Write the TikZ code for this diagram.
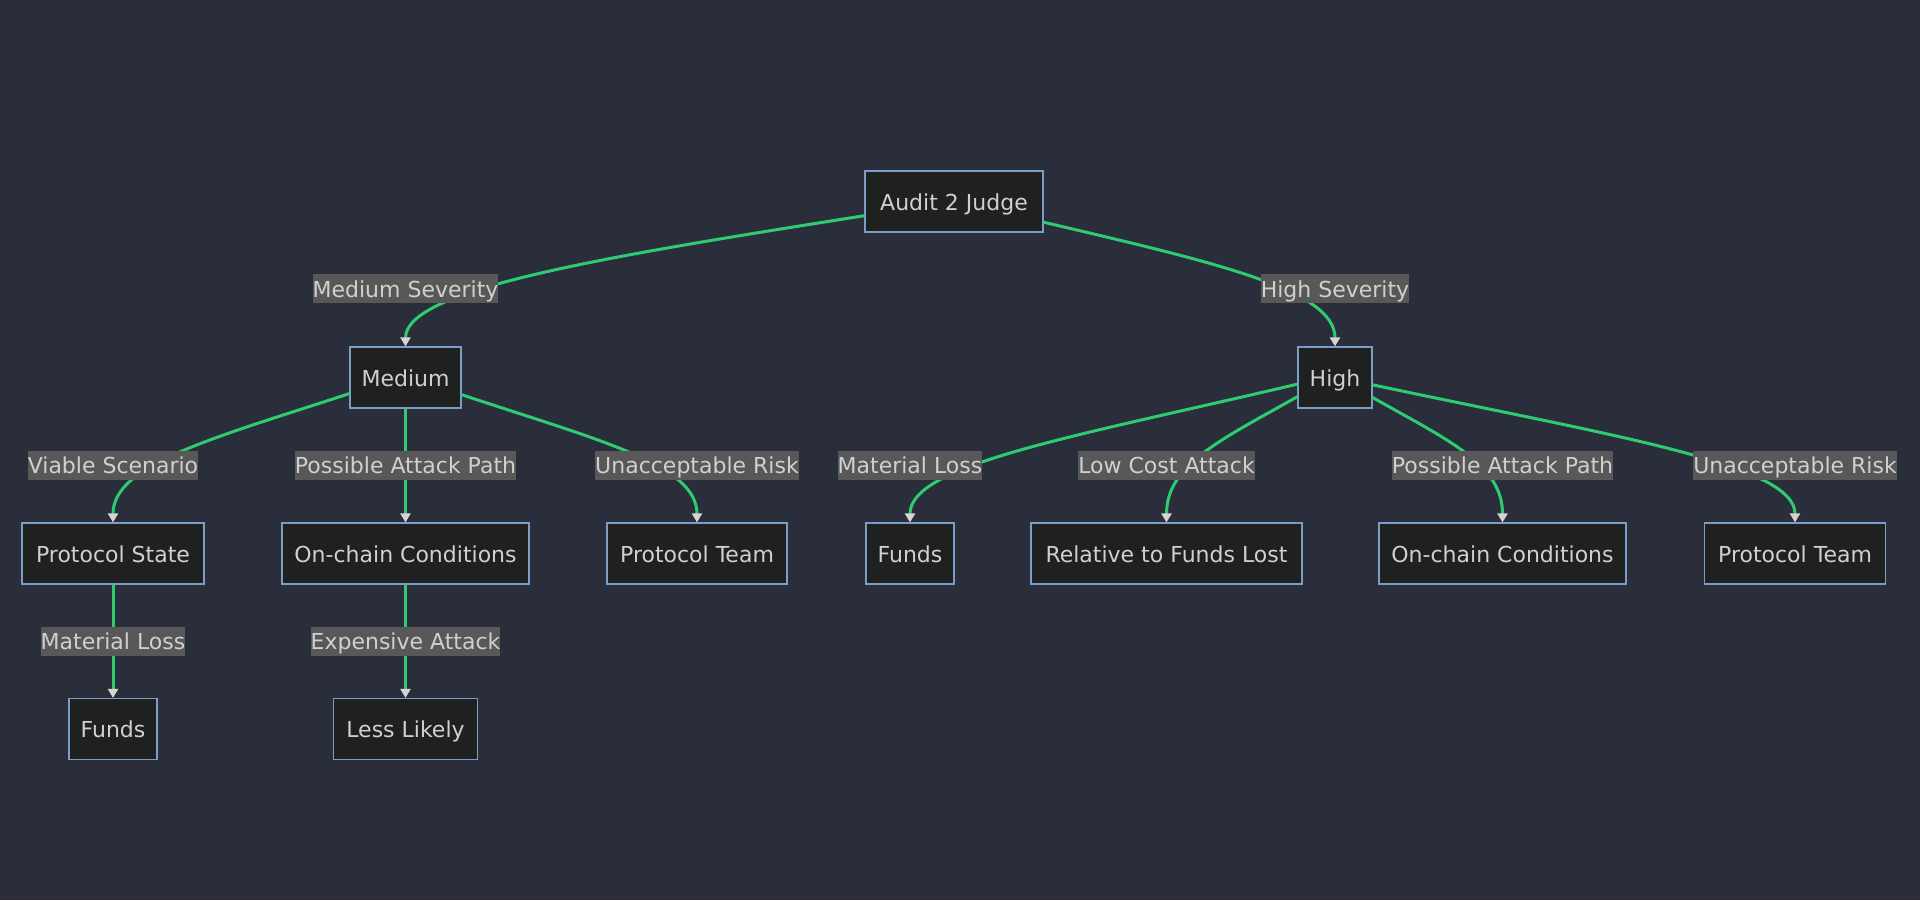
\documentclass[tikz,border=0pt]{standalone}
\usepackage{fontspec}
\setmainfont{DejaVu Sans}
\usetikzlibrary{arrows.meta}
\definecolor{bgblue}{RGB}{41,46,58}
\definecolor{nodefill}{RGB}{31,32,32}
\definecolor{nodeline}{RGB}{122,158,198}
\definecolor{nodetext}{RGB}{208,208,208}
\definecolor{lblfill}{RGB}{88,88,88}
\definecolor{linegreen}{RGB}{46,204,113}
\definecolor{tipgray}{RGB}{212,212,212}
\begin{document}
\begin{tikzpicture}[x=1pt,y=-1pt,
box/.style={draw=nodeline, line width=1.2pt, fill=nodefill, text=nodetext, font=\fontsize{22}{26}\selectfont, inner sep=0pt, text height=23pt, text depth=6pt, minimum height=61pt, minimum width=#1},
lbl/.style={fill=lblfill, text=nodetext, font=\fontsize{22}{26}\selectfont, inner sep=0pt, text height=23pt, text depth=6pt},
edge/.style={draw=linegreen, line width=3pt, -{Triangle[length=9pt,width=10pt,color=tipgray]}}]
\fill[bgblue] (0,0) rectangle (1920,900);

\node[box=178] (audit) at (954,201.5) {Audit 2 Judge};
\node[box=111] (med) at (405.5,377.5) {Medium};
\node[box=74] (high) at (1335,377.5) {High};
\node[box=182] (ps) at (113,553.5) {Protocol State};
\node[box=247] (ocl) at (405.5,553.5) {On-chain Conditions};
\node[box=180] (ptl) at (697,553.5) {Protocol Team};
\node[box=88] (fundsr) at (910,553.5) {Funds};
\node[box=271] (rel) at (1166.5,553.5) {Relative to Funds Lost};
\node[box=247] (ocr) at (1502.5,553.5) {On-chain Conditions};
\node[box=181] (ptr) at (1795,553.5) {Protocol Team};
\node[box=88] (fundsl) at (113,729) {Funds};
\node[box=144] (less) at (405.5,729) {Less Likely};

\draw[edge] (audit.189) .. controls +(-266,42) and +(0,-57) .. (med.north);
\draw[edge] (audit.347) .. controls +(170,40) and +(0,-57) .. (high.north);
\draw[edge] (med.196.6) .. controls +(-137.5,45) and +(0,-58) .. (ps.north);
\draw[edge] (med) -- (ocl);
\draw[edge] (med.343.4) .. controls +(137,45.6) and +(0,-58) .. (ptl.north);
\draw[edge] (high.190.4) .. controls +(-225,53) and +(0,-58) .. (fundsr.north);
\draw[edge] (high.207.4) .. controls +(-76,43) and +(0,-58) .. (rel.north);
\draw[edge] (high.332.6) .. controls +(76,43) and +(0,-58) .. (ocr.north);
\draw[edge] (high.349.6) .. controls +(245,52) and +(0,-58) .. (ptr.north);
\draw[edge] (ps) -- (fundsl);
\draw[edge] (ocl) -- (less);

\node[lbl] (lms) at (405.5,288.5) {Medium Severity};
\node[lbl] (lhs) at (1335,288.5) {High Severity};
\node[lbl] (lvs) at (113,465) {Viable Scenario};
\node[lbl] (lpal) at (405.5,465) {Possible Attack Path};
\node[lbl] (lurl) at (697,465) {Unacceptable Risk};
\node[lbl] (lmlr) at (910,465) {Material Loss};
\node[lbl] (llca) at (1166.5,465) {Low Cost Attack};
\node[lbl] (lpar) at (1502.5,465) {Possible Attack Path};
\node[lbl] (lurr) at (1795,465) {Unacceptable Risk};
\node[lbl] (lmll) at (113,641) {Material Loss};
\node[lbl] (lea) at (405.5,641) {Expensive Attack};
\end{tikzpicture}
\end{document}
